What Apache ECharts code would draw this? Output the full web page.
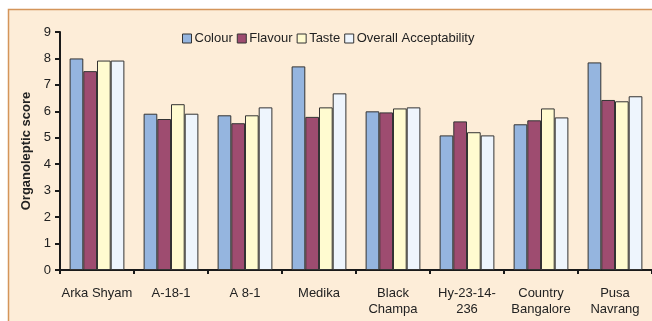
<!DOCTYPE html>
<html>
<head>
<meta charset="utf-8">
<script src="https://cdn.jsdelivr.net/npm/echarts@6/dist/echarts.min.js"></script>
<style>
  html, body { margin: 0; padding: 0; background: #ffffff; }
  #chart { width: 652px; height: 321px; }
</style>
</head>
<body>
<div id="chart"></div>
<script>
// Organoleptic scores of brinjal varieties
const categories = ['Arka Shyam', 'A-18-1', 'A 8-1', 'Medika', 'Black\nChampa', 'Hy-23-14-\n236', 'Country\nBangalore', 'Pusa\nNavrang'];
const colourScores  = [8.00, 5.91, 5.85, 7.70, 6.00, 5.09, 5.51, 7.85];
const flavourScores = [7.52, 5.71, 5.55, 5.79, 5.96, 5.62, 5.66, 6.43];
const tasteScores   = [7.92, 6.27, 5.85, 6.15, 6.11, 5.21, 6.11, 6.38];
const overallScores = [7.92, 5.91, 6.15, 6.68, 6.15, 5.09, 5.77, 6.57];
const yTicks = [0, 1, 2, 3, 4, 5, 6, 7, 8, 9];

const seriesDefs = [
  { name: 'Colour', data: colourScores, color: '#95B5DF' },
  { name: 'Flavour', data: flavourScores, color: '#9E4C70' },
  { name: 'Taste', data: tasteScores, color: '#FFFBD0' },
  { name: 'Overall Acceptability', data: overallScores, color: '#EEF5FD' }
];

const chart = echarts.init(document.getElementById('chart'), null, { renderer: 'canvas' });
const font = 'Liberation Sans, Arial, sans-serif';

chart.setOption({
  animation: false,
  backgroundColor: '#ffffff',
  graphic: [
    {
      type: 'rect',
      z: -10,
      shape: { x: 8.5, y: 9.5, width: 660, height: 330 },
      style: { fill: '#FDEDD8', stroke: '#D4955A', lineWidth: 1.5 },
      silent: true
    }
  ],
  legend: {
    top: 27,
    left: 177,
    itemWidth: 9,
    itemHeight: 9,
    itemGap: 4,
    icon: 'rect',
    textStyle: { fontFamily: font, fontSize: 13, color: '#222', padding: [0, 0, 0, -2] },
    data: seriesDefs.map(s => ({ name: s.name, itemStyle: { borderColor: '#333', borderWidth: 1 } }))
  },
  grid: { left: 60, right: 0, top: 32, bottom: 51, containLabel: false },
  xAxis: {
    type: 'category',
    data: categories,
    axisLine: { lineStyle: { color: '#1a1a1a', width: 2 } },
    axisTick: { show: true, inside: false, length: 4, lineStyle: { color: '#1a1a1a', width: 2 } },
    axisLabel: { fontFamily: font, fontSize: 13, color: '#222', margin: 15, lineHeight: 16, interval: 0 }
  },
  yAxis: {
    type: 'value',
    min: yTicks[0],
    max: yTicks[yTicks.length - 1],
    interval: 1,
    name: 'Organoleptic score',
    nameLocation: 'middle',
    nameGap: 21,
    nameTextStyle: { fontFamily: font, fontSize: 13, fontWeight: 'bold', color: '#222' },
    axisLine: { show: true, lineStyle: { color: '#1a1a1a', width: 2 } },
    axisTick: { show: true, length: 5, lineStyle: { color: '#1a1a1a', width: 2 } },
    axisLabel: { fontFamily: font, fontSize: 13, color: '#222', margin: 9 },
    splitLine: { show: false }
  },
  series: seriesDefs.map(s => ({
    name: s.name,
    type: 'bar',
    data: s.data,
    barGap: '0%',
    barCategoryGap: '26%',
    itemStyle: { color: s.color, borderColor: '#333', borderWidth: 1 }
  }))
});
</script>
</body>
</html>
